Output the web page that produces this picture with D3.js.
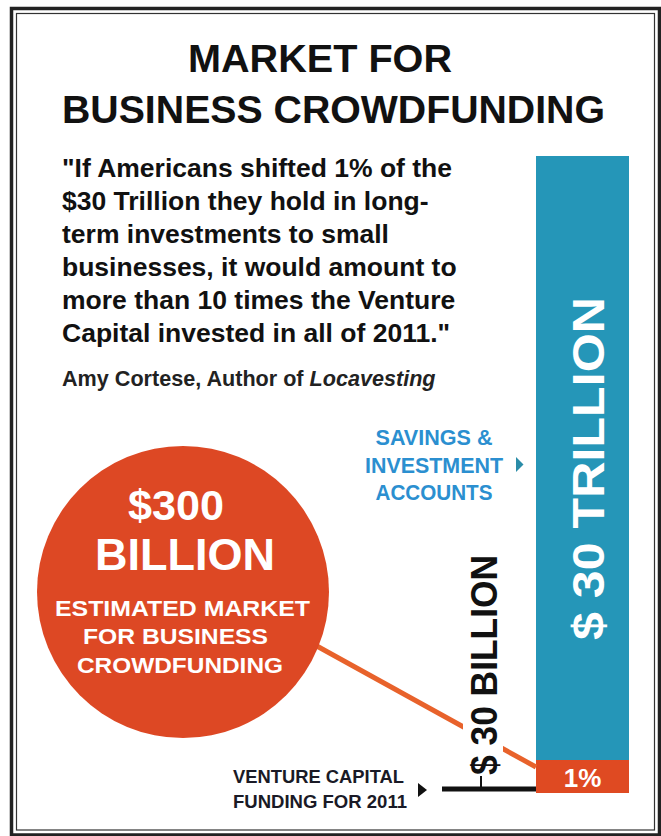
<!DOCTYPE html>
<html>
<head>
<meta charset="utf-8">
<script src="https://cdnjs.cloudflare.com/ajax/libs/d3/7.8.5/d3.min.js"></script>
<style>
    body { margin: 0; background: #fff; }
    text { font-family: "Liberation Sans", Arimo, Arial, sans-serif; font-weight: bold; }
</style>
</head>
<body>
<div id="chart"></div>
<script>
// chart text and values
var titleLines = ["MARKET FOR", "BUSINESS CROWDFUNDING"];
var quoteLines = [
    "\"If Americans shifted 1% of the",
    "$30 Trillion they hold in long-",
    "term investments to small",
    "businesses, it would amount to",
    "more than 10 times the Venture",
    "Capital invested in all of 2011.\""
];
var authorText = ["Amy Cortese, Author of ", "Locavesting"];
var savingsLabel = ["SAVINGS &", "INVESTMENT", "ACCOUNTS"];
var circleLines = ["$300", "BILLION", "ESTIMATED MARKET", "FOR BUSINESS", "CROWDFUNDING"];
var ventureLabel = ["VENTURE CAPITAL", "FUNDING FOR 2011"];

// bar segments, in percent of the $30 trillion savings
var segmentLabels = ["1%", "$ 30 TRILLION"];
var segmentFrom = [0, 1];
var segmentTo = [1, 100];
var ventureText = "$ 30 BILLION";

var width = 661;
var height = 836;

var svg = d3.select("#chart").append("svg")
    .attr("width", width)
    .attr("height", height);

//Frame
svg.append("rect")
    .attr("x", 11.5).attr("y", 8.5)
    .attr("width", 648).attr("height", 826.5)
    .attr("fill", "#fff")
    .attr("stroke", "#222")
    .attr("stroke-width", 3.5);

svg.append("rect")
    .attr("x", 16.5).attr("y", 13.5)
    .attr("width", 638).attr("height", 816.5)
    .attr("fill", "none")
    .attr("stroke", "#333")
    .attr("stroke-width", 1.2);

//Title
var titleX = [320, 333.5];
var titleLen = [264, 543];
svg.selectAll(".title")
    .data(titleLines)
    .enter()
    .append("text")
    .attr("class", "title")
    .attr("x", function (d, i) { return titleX[i]; })
    .attr("y", function (d, i) { return 72 + i * 50.5; })
    .attr("text-anchor", "middle")
    .attr("textLength", function (d, i) { return titleLen[i]; })
    .attr("lengthAdjust", "spacingAndGlyphs")
    .style("font-size", "39px")
    .style("fill", "#111")
    .text(function (d) { return d; });

//Quote
svg.selectAll(".quote")
    .data(quoteLines)
    .enter()
    .append("text")
    .attr("class", "quote")
    .attr("x", 62)
    .attr("y", function (d, i) { return 177 + i * 33; })
    .style("font-size", "26.5px")
    .style("fill", "#111")
    .text(function (d) { return d; });

var author = svg.append("text")
    .attr("x", 62)
    .attr("y", 386)
    .style("font-size", "21.6px")
    .style("fill", "#222");
author.append("tspan").text(authorText[0]);
author.append("tspan").style("font-style", "italic").text(authorText[1]);

//Bar
var barLeft = 536, barRight = 629;
var y = d3.scaleLinear()
    .domain([0, 1, 100])
    .range([793, 760, 156]);

var segColors = ["#df4a22", "#2596b8"];

svg.selectAll(".seg")
    .data(segmentLabels)
    .enter()
    .append("rect")
    .attr("class", "seg")
    .attr("x", barLeft)
    .attr("width", barRight - barLeft)
    .attr("y", function (d, i) { return y(segmentTo[i]); })
    .attr("height", function (d, i) { return y(segmentFrom[i]) - y(segmentTo[i]); })
    .attr("fill", function (d, i) { return segColors[i]; });

//1% label
svg.append("text")
    .attr("x", (barLeft + barRight) / 2)
    .attr("y", 787)
    .attr("text-anchor", "middle")
    .style("font-size", "26px")
    .style("fill", "#fff")
    .text(segmentLabels[0]);

//Trillion label, rotated inside the bar
svg.append("text")
    .attr("transform", "translate(604,640) rotate(-90)")
    .attr("textLength", 343)
    .attr("lengthAdjust", "spacingAndGlyphs")
    .style("font-size", "44px")
    .style("fill", "#fff")
    .text(segmentLabels[1]);

//Savings label and arrow
svg.selectAll(".sav")
    .data(savingsLabel)
    .enter()
    .append("text")
    .attr("class", "sav")
    .attr("x", 434)
    .attr("y", function (d, i) { return 445 + i * 27.5; })
    .attr("text-anchor", "middle")
    .attr("textLength", function (d, i) { return [117, 138, 117][i]; })
    .attr("lengthAdjust", "spacingAndGlyphs")
    .style("font-size", "22px")
    .style("fill", "#2b8fd0")
    .text(function (d) { return d; });

svg.append("path")
    .attr("d", "M516,457L523.5,464.5L516,472Z")
    .attr("fill", "#2a8ca8");

//Connector from circle to 1% segment
svg.append("line")
    .attr("x1", 315).attr("y1", 645)
    .attr("x2", barLeft).attr("y2", 767)
    .attr("stroke", "#e8622b")
    .attr("stroke-width", 5);

//Circle
svg.append("circle")
    .attr("cx", 183)
    .attr("cy", 592)
    .attr("r", 146)
    .attr("fill", "#dd4824");

var circleX = [176, 185, 182.5, 175.5, 180];
var circleY = [520, 570, 616, 644, 673];
var circleSize = [42, 45, 22, 22, 22];
var circleLen = [96, 180, 255, 185, 206];
svg.selectAll(".circ")
    .data(circleLines)
    .enter()
    .append("text")
    .attr("class", "circ")
    .attr("x", function (d, i) { return circleX[i]; })
    .attr("y", function (d, i) { return circleY[i]; })
    .attr("text-anchor", "middle")
    .attr("textLength", function (d, i) { return circleLen[i]; })
    .attr("lengthAdjust", "spacingAndGlyphs")
    .style("font-size", function (d, i) { return circleSize[i] + "px"; })
    .style("fill", "#fff")
    .text(function (d) { return d; });

//Venture capital: white backing so the connector breaks around the label
svg.append("rect")
    .attr("x", 463).attr("y", 550)
    .attr("width", 40).attr("height", 230)
    .attr("fill", "#fff");

svg.append("text")
    .attr("transform", "translate(497,775) rotate(-90)")
    .attr("textLength", 220)
    .attr("lengthAdjust", "spacingAndGlyphs")
    .style("font-size", "36px")
    .style("fill", "#111")
    .text(ventureText);

svg.append("line")
    .attr("x1", 442).attr("y1", 789)
    .attr("x2", barLeft).attr("y2", 789)
    .attr("stroke", "#111")
    .attr("stroke-width", 5);

svg.append("line")
    .attr("x1", 481).attr("y1", 776)
    .attr("x2", 481).attr("y2", 791)
    .attr("stroke", "#111")
    .attr("stroke-width", 2);

svg.append("path")
    .attr("d", "M418,783L427,790L418,797Z")
    .attr("fill", "#111");

svg.selectAll(".vc")
    .data(ventureLabel)
    .enter()
    .append("text")
    .attr("class", "vc")
    .attr("x", 233)
    .attr("y", function (d, i) { return 783 + i * 25; })
    .attr("textLength", function (d, i) { return [171, 174][i]; })
    .attr("lengthAdjust", "spacingAndGlyphs")
    .style("font-size", "19px")
    .style("fill", "#1a1a26")
    .text(function (d) { return d; });
</script>
</body>
</html>
